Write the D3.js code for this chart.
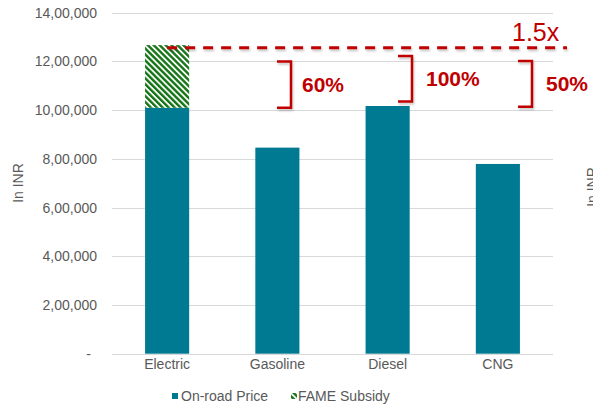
<!DOCTYPE html>
<html><head><meta charset="utf-8">
<script src="https://cdn.jsdelivr.net/npm/d3@7"></script>
<style>
html,body{margin:0;padding:0;background:#fff;}
svg{display:block;font-family:"Liberation Sans",Arial,sans-serif;}
</style></head>
<body>
<svg id="chart" width="593" height="404"></svg>
<script>
// ---- data ----
const categories = ["Electric", "Gasoline", "Diesel", "CNG"];
const onRoadPrice = [1010000, 846000, 1017000, 779000];
const fameSubsidy = [257000, 0, 0, 0];
const yTicks = [0, 200000, 400000, 600000, 800000, 1000000, 1200000, 1400000];
const seriesNames = ["On-road Price", "FAME Subsidy"];
const referenceLevel = 1256000;
const referenceLabel = "1.5x";
const gapLabels = ["60%", "100%", "50%"];
const gapLow = [1010000, 1035000, 1014000];
const gapHigh = [1200000, 1222000, 1202000];
const yTitle = "In INR";

// ---- helpers ----
function indian(v) {
  if (v === 0) return "-";
  const s = String(Math.round(v));
  if (s.length <= 3) return s;
  const last3 = s.slice(-3);
  let rest = s.slice(0, -3);
  const parts = [];
  while (rest.length > 2) { parts.unshift(rest.slice(-2)); rest = rest.slice(0, -2); }
  if (rest.length) parts.unshift(rest);
  return parts.join(",") + "," + last3;
}

const svg = d3.select("#chart");
const teal = "#007A92", green = "#167516", red = "#C00000", grey = "#595959";

const defs = svg.append("defs");
const pat = defs.append("pattern").attr("id", "hatch").attr("patternUnits", "userSpaceOnUse")
  .attr("width", 4.2).attr("height", 4.2).attr("patternTransform", "rotate(-45)");
pat.append("rect").attr("width", 4.2).attr("height", 4.2).attr("fill", "#fff");
pat.append("rect").attr("width", 2.4).attr("height", 4.2).attr("fill", green);
const f = defs.append("filter").attr("id", "sh").attr("filterUnits", "userSpaceOnUse")
  .attr("x", 0).attr("y", 0).attr("width", 593).attr("height", 404);
f.append("feDropShadow").attr("dx", 1).attr("dy", 2).attr("stdDeviation", 1.3)
  .attr("flood-color", "#000").attr("flood-opacity", 0.22);

const x = d3.scaleBand().domain(categories).range([112, 553]).paddingInner(0.6).paddingOuter(0.3);
const y = d3.scaleLinear().domain([0, 1400000]).range([353.7, 12.7]);

// gridlines
svg.append("g").selectAll("line").data(yTicks).join("line")
  .attr("x1", 112).attr("x2", 553)
  .attr("y1", d => Math.round(y(d)) + 0.5).attr("y2", d => Math.round(y(d)) + 0.5)
  .attr("stroke", "#D9D9D9").attr("stroke-width", 1);

// y axis labels
const yAxis = d3.axisLeft(y).tickValues(yTicks).tickFormat(indian).tickSize(0).tickPadding(0);
const ya = svg.append("g").attr("transform", "translate(97,0)").call(yAxis);
ya.select(".domain").remove();
ya.selectAll("text").attr("font-size", 14).attr("fill", grey)
  .attr("font-family", "'Liberation Sans',Arial,sans-serif")
  .attr("dx", d => d === 0 ? -6 : 0);

// x axis labels
const xAxis = d3.axisBottom(x).tickSize(0).tickPadding(0);
const xa = svg.append("g").attr("transform", "translate(0,359)").call(xAxis);
xa.select(".domain").remove();
xa.selectAll("text").attr("font-size", 14).attr("fill", grey)
  .attr("font-family", "'Liberation Sans',Arial,sans-serif");

// bars
svg.append("g").selectAll("rect").data(categories).join("rect")
  .attr("x", d => x(d)).attr("width", x.bandwidth())
  .attr("y", (d, i) => y(onRoadPrice[i])).attr("height", (d, i) => y(0) - y(onRoadPrice[i]))
  .attr("fill", teal);
svg.append("g").selectAll("rect").data(categories.filter((d, i) => fameSubsidy[i] > 0)).join("rect")
  .attr("x", d => x(d)).attr("width", x.bandwidth())
  .attr("y", d => { const i = categories.indexOf(d); return y(onRoadPrice[i] + fameSubsidy[i]); })
  .attr("height", d => { const i = categories.indexOf(d); return y(onRoadPrice[i]) - y(onRoadPrice[i] + fameSubsidy[i]); })
  .attr("fill", "url(#hatch)");

// reference dashed line
const ry = y(referenceLevel);
svg.append("line").attr("x1", x(categories[0]) + x.bandwidth() / 2).attr("x2", 567)
  .attr("y1", ry).attr("y2", ry).attr("stroke", red).attr("stroke-width", 3)
  .attr("stroke-dasharray", "10,8").attr("filter", "url(#sh)");
svg.append("text").attr("x", 512).attr("y", 41).attr("font-size", 25).attr("fill", red).text(referenceLabel);

// brackets
const bracketRight = [291, 412, 532];
const labelX = [302, 426, 546];
gapLabels.forEach((lab, i) => {
  const t = y(gapHigh[i]), b = y(gapLow[i]), r = bracketRight[i], l = r - 14;
  svg.append("path").attr("d", `M${l},${t}H${r}V${b}H${l}`)
    .attr("fill", "none").attr("stroke", red).attr("stroke-width", 2.5).attr("filter", "url(#sh)");
  svg.append("text").attr("x", labelX[i]).attr("y", (t + b) / 2 + 7.5)
    .attr("font-size", 21).attr("font-weight", "bold").attr("fill", red).text(lab);
});

// axis titles
svg.append("text").attr("transform", "translate(23,183) rotate(-90)").attr("text-anchor", "middle")
  .attr("font-size", 14).attr("fill", grey).text(yTitle);
svg.append("text").attr("transform", "translate(597,187) rotate(-90)").attr("text-anchor", "middle")
  .attr("font-size", 14).attr("fill", grey).text(yTitle);

// legend
const lg = svg.append("g");
lg.append("rect").attr("x", 172).attr("y", 393).attr("width", 6).attr("height", 6).attr("fill", teal);
lg.append("text").attr("x", 181).attr("y", 401).attr("font-size", 14).attr("fill", grey).text(seriesNames[0]);
lg.append("rect").attr("x", 291).attr("y", 393).attr("width", 6).attr("height", 6).attr("fill", "url(#hatch)");
lg.append("text").attr("x", 298).attr("y", 401).attr("font-size", 14).attr("fill", grey).text(seriesNames[1]);
</script>
</body></html>
